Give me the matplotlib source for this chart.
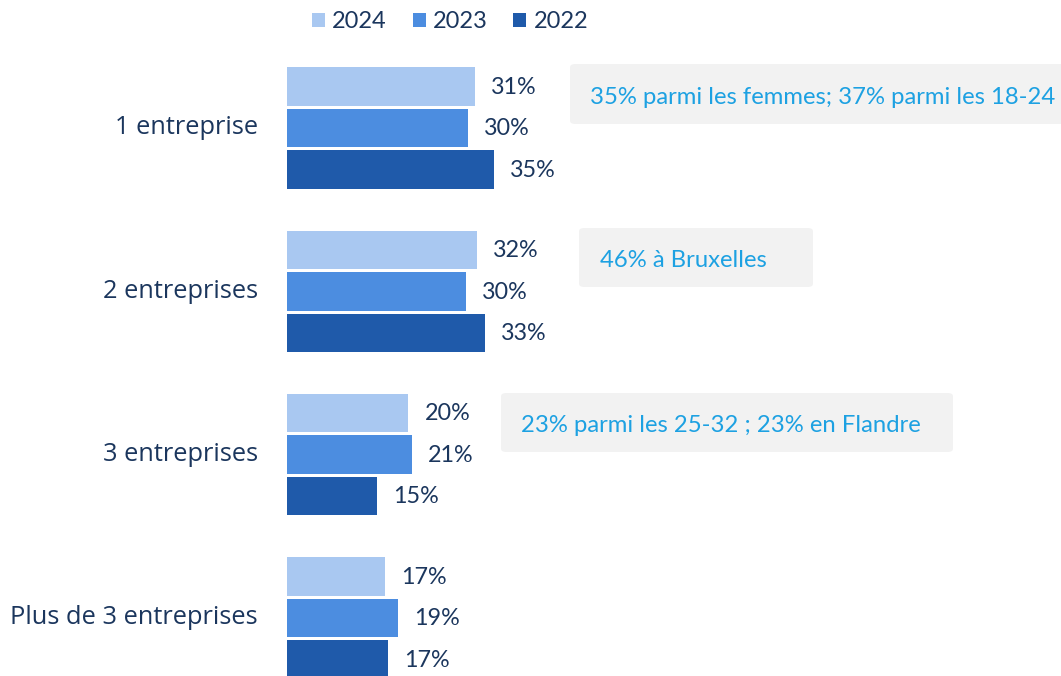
import matplotlib.pyplot as plt
from matplotlib.patches import FancyBboxPatch

categories = ['1 entreprise', '2 entreprises', '3 entreprises', 'Plus de 3 entreprises']
years = ['2024', '2023', '2022']
# bar lengths (percent)
values = {
    '2024': [31.3, 31.7, 20.2, 16.3],
    '2023': [30.2, 29.8, 20.8, 18.5],
    '2022': [34.5, 33.0, 15.0, 16.8],
}
labels = {
    '2024': ['31%', '32%', '20%', '17%'],
    '2023': ['30%', '30%', '21%', '19%'],
    '2022': ['35%', '33%', '15%', '17%'],
}
colors = {'2024': '#A9C8F1', '2023': '#4C8DE0', '2022': '#1F5AAA'}
notes = ['35% parmi les femmes; 37% parmi les 18-24', '46% à Bruxelles',
         '23% parmi les 25-32 ; 23% en Flandre']

W, H = 1061, 676
navy = '#1B365D'
fig = plt.figure(figsize=(W / 100, H / 100), dpi=100)
ax = fig.add_axes([0, 0, 1, 1])
ppu = 6.0  # pixels per percent
ax.set_xlim(-287 / ppu, (W - 287) / ppu)
ax.set_ylim((H - 128) / 163.3, -128 / 163.3)
ax.axis('off')

offsets = [-0.254, 0, 0.254]
handles = []
for yr, off in zip(years, offsets):
    ys = [i + off for i in range(len(categories))]
    b = ax.barh(ys, values[yr], height=0.236, color=colors[yr], label=yr)
    handles.append(b)
    for y, v, t in zip(ys, values[yr], labels[yr]):
        ax.text(v + 2.7, y + 0.005, t, va='center', ha='left', fontsize=16.8,
                color=navy, family='Lato')

for i, c in enumerate(categories):
    ax.text(-29 / ppu, i, c, ha='right', va='center', fontsize=18.3,
            color=navy, family='Open Sans')

# note boxes (pixel layout: left, top, right, bottom, text x)
boxes = [(570, 64, 1075, 124, 590), (579, 228, 813, 287, 600), (501, 393, 953, 452, 521)]
for (l, t, r, btm, tx), n in zip(boxes, notes):
    p = FancyBboxPatch((l / W, 1 - btm / H), (r - l) / W, (btm - t) / H,
                       boxstyle='round,pad=0,rounding_size=0.005',
                       transform=fig.transFigure, facecolor='#F2F2F2',
                       edgecolor='none', zorder=1)
    fig.patches.append(p)
    fig.text(tx / W, 1 - ((t + btm) / 2 + 3) / H, n, ha='left', va='center',
             fontsize=17.2, color='#1DA1E2', family='Lato', zorder=2)

fig.legend(handles=handles, labels=years, loc='center', bbox_to_anchor=(450 / W, 1 - 22 / H),
           ncol=3, frameon=False, handlelength=0.55, handleheight=0.55,
           handletextpad=0.3, columnspacing=1.1, labelcolor=navy,
           prop={'family': 'Lato', 'size': 17})

fig.savefig('out.png', dpi=100)
